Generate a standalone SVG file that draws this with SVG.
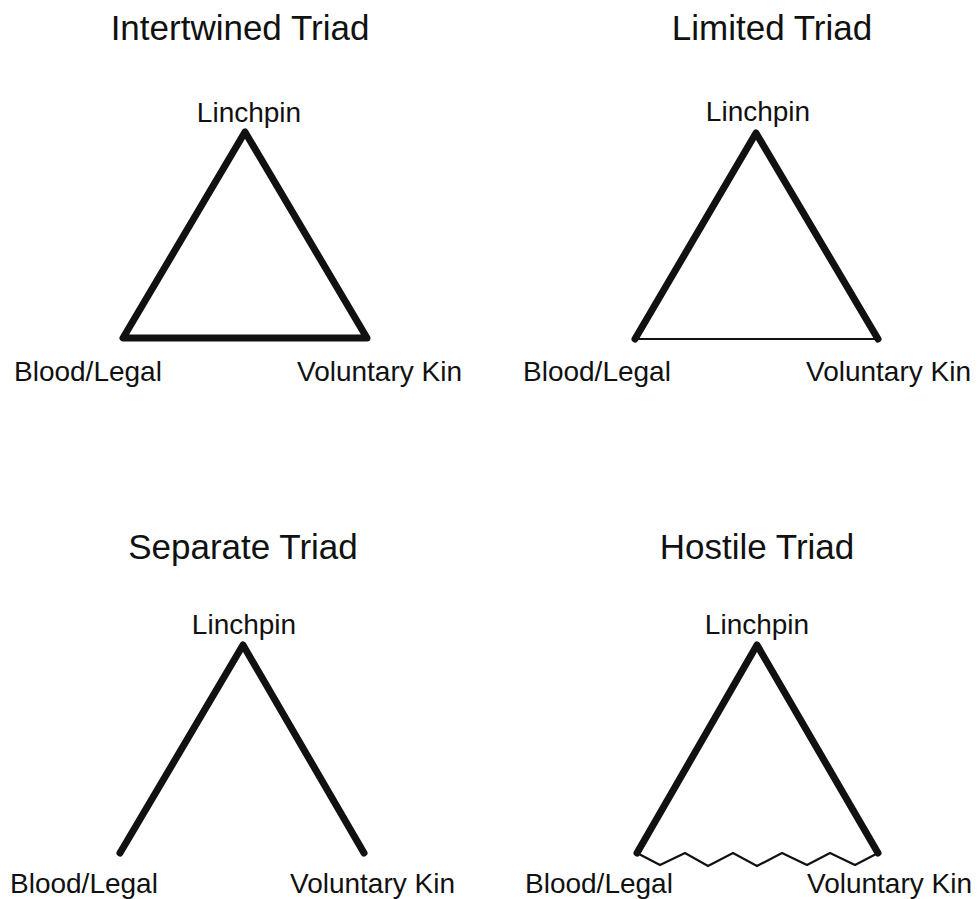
<svg xmlns="http://www.w3.org/2000/svg" width="979" height="899" viewBox="0 0 979 899">
<style>
.title{font-family:"Liberation Sans",Arial,sans-serif;font-size:35px;fill:#111;text-anchor:middle}
.lbl{font-family:"Liberation Sans",Arial,sans-serif;font-size:28px;fill:#111}
.mid{text-anchor:middle}
.thick{stroke:#111;stroke-width:7;fill:none;stroke-linecap:round;stroke-linejoin:round}
.thin{stroke:#111;stroke-width:2.2;fill:none;stroke-linejoin:miter}
</style>
<rect width="979" height="899" fill="#fff"/>
<g id="titles">
<text class="title" x="240" y="40">Intertwined Triad</text>
<text class="title" x="772" y="40">Limited Triad</text>
<text class="title" x="243" y="559">Separate Triad</text>
<text class="title" x="757" y="559">Hostile Triad</text>
</g>
<g id="intertwined-linchpin"><text class="lbl mid" x="249" y="122">Linchpin</text></g>
<g id="intertwined-blood"><text class="lbl" x="14" y="381">Blood/Legal</text></g>
<g id="intertwined-kin"><text class="lbl" x="297" y="381">Voluntary Kin</text></g>
<g id="limited-linchpin"><text class="lbl mid" x="758" y="121">Linchpin</text></g>
<g id="limited-blood"><text class="lbl" x="523" y="381">Blood/Legal</text></g>
<g id="limited-kin"><text class="lbl" x="806" y="381">Voluntary Kin</text></g>
<g id="separate-linchpin"><text class="lbl mid" x="244" y="634">Linchpin</text></g>
<g id="separate-blood"><text class="lbl" x="10" y="893">Blood/Legal</text></g>
<g id="separate-kin"><text class="lbl" x="290" y="893">Voluntary Kin</text></g>
<g id="hostile-linchpin"><text class="lbl mid" x="757" y="634">Linchpin</text></g>
<g id="hostile-blood"><text class="lbl" x="525" y="893">Blood/Legal</text></g>
<g id="hostile-kin"><text class="lbl" x="807" y="893">Voluntary Kin</text></g>
<g id="connectors">
<path class="thick" d="M245,132 L123,338 L367,338 Z"/>
<path class="thick" d="M635,339 L756,133 L878,339"/>
<path class="thin" d="M635,339 L878,339"/>
<path class="thick" d="M120,853 L243,645 L364,853"/>
<path class="thick" d="M637,853 L757,645 L878,853"/>
<path class="thin" d="M637,853 L660,865 L685,853 L708,866 L733,853 L757,866 L782,853 L807,865 L830,853 L855,865 L878,853"/>
</g>
</svg>
